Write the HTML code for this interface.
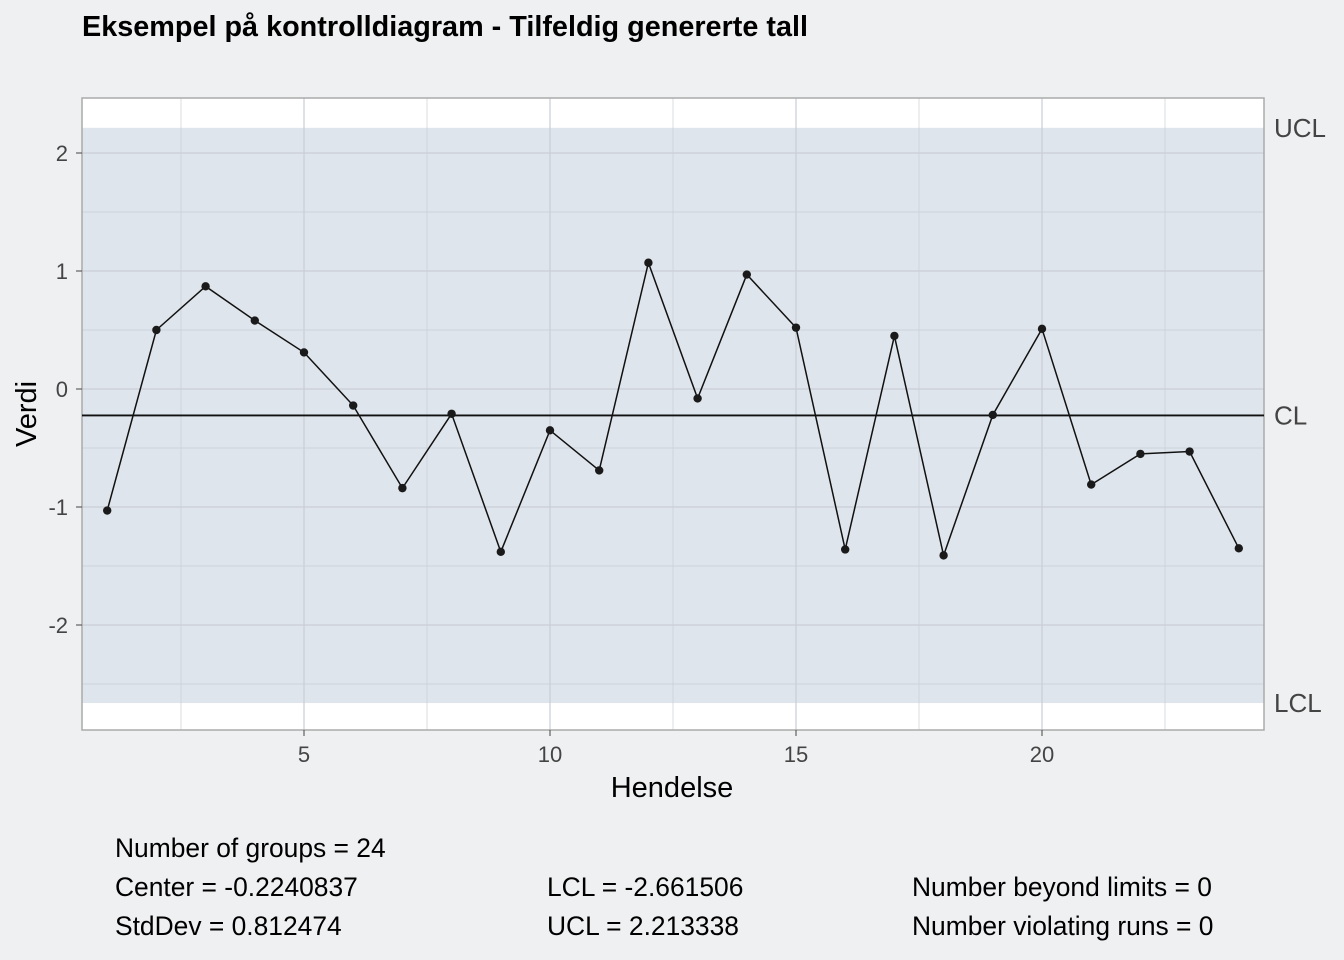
<!DOCTYPE html>
<html><head><meta charset="utf-8"><style>
body{margin:0;background:#eff0f2;font-family:"Liberation Sans",sans-serif;}
svg{display:block}
</style></head><body>
<svg width="1344" height="960">
<rect width="1344" height="960" fill="#eff0f2"/>
<text x="82" y="36" font-size="28.8" font-weight="bold" fill="#000">Eksempel på kontrolldiagram - Tilfeldig genererte tall</text>
<g id="plot"></g>
<text x="672" y="797" font-size="29" text-anchor="middle">Hendelse</text>
<text transform="translate(36,414) rotate(-90)" font-size="29" text-anchor="middle">Verdi</text>
<g font-size="26.4" fill="#000">
<text x="115" y="857">Number of groups = 24</text>
<text x="115" y="896">Center = -0.2240837</text>
<text x="115" y="935">StdDev = 0.812474</text>
<text x="547" y="896">LCL = -2.661506</text>
<text x="547" y="935">UCL = 2.213338</text>
<text x="912" y="896">Number beyond limits = 0</text>
<text x="912" y="935">Number violating runs = 0</text>
</g>
</svg>
<script>
const values=[-1.03,0.50,0.87,0.58,0.31,-0.14,-0.84,-0.21,-1.38,-0.35,-0.69,1.07,-0.08,0.97,0.52,-1.36,0.45,-1.41,-0.22,0.51,-0.81,-0.55,-0.53,-1.35];
const center=-0.2240837, lcl=-2.661506, ucl=2.213338;
const yTicks=[2,1,0,-1,-2];
const xTicks=[5,10,15,20];
const NS='http://www.w3.org/2000/svg';
const g=document.getElementById('plot');
const X=v=>304+(v-5)*49.2, Y=v=>389-v*118;
const L=82,R=1264,T=98,B=730;
function el(t,a,p){const e=document.createElementNS(NS,t);for(const k in a)e.setAttribute(k,a[k]);(p||g).appendChild(e);return e;}
el('rect',{x:L,y:T,width:R-L,height:B-T,fill:'#fff'});
const band=el('rect',{x:L,y:Y(ucl),width:R-L,height:Y(lcl)-Y(ucl),fill:'#dfe5ec'});


for(let v=-2.5;v<=2.5;v+=0.5){const y=Y(v);if(y<T||y>B)continue;el('line',{x1:L,x2:R,y1:y,y2:y,stroke:'#c9ced6','stroke-width':Number.isInteger(v)?1.2:0.7});}
for(let v=2.5;v<=22.5;v+=2.5){const x=X(v);el('line',{x1:x,x2:x,y1:T,y2:B,stroke:'#c9ced6','stroke-width':v%5===0?1.2:0.7});}
el('rect',{x:L,y:T,width:R-L,height:B-T,fill:'none',stroke:'#aaa','stroke-width':1.5});
yTicks.forEach(v=>{const t=el('text',{x:68,y:Y(v)+8,'font-size':22,'text-anchor':'end',fill:'#444'});t.textContent=v;


el('line',{x1:76,x2:L,y1:Y(v),y2:Y(v),stroke:'#444'});});
xTicks.forEach(v=>{const t=el('text',{x:X(v),y:762,'font-size':22,'text-anchor':'middle',fill:'#444'});t.textContent=v;


el('line',{x1:X(v),x2:X(v),y1:B,y2:B+6,stroke:'#444'});});
const cl=el('line',{x1:L,x2:R,y1:Y(center),y2:Y(center),stroke:'#111','stroke-width':1.8});


[['UCL',ucl,'ucl-label'],['CL',center,'cl-label'],['LCL',lcl,'lcl-label']].forEach(([s,v,n])=>{const t=el('text',{x:1274,y:Y(v)+9,'font-size':26,fill:'#444'});t.textContent=s;

});
const pts=values.map((v,i)=>X(i+1)+','+Y(v)).join(' ');
const line=el('polyline',{points:pts,fill:'none',stroke:'#111','stroke-width':1.5});


values.forEach((v,i)=>{const c=el('circle',{cx:X(i+1),cy:Y(v),r:4.2,fill:'#1a1a1a'});

});
</script>
</body></html>
